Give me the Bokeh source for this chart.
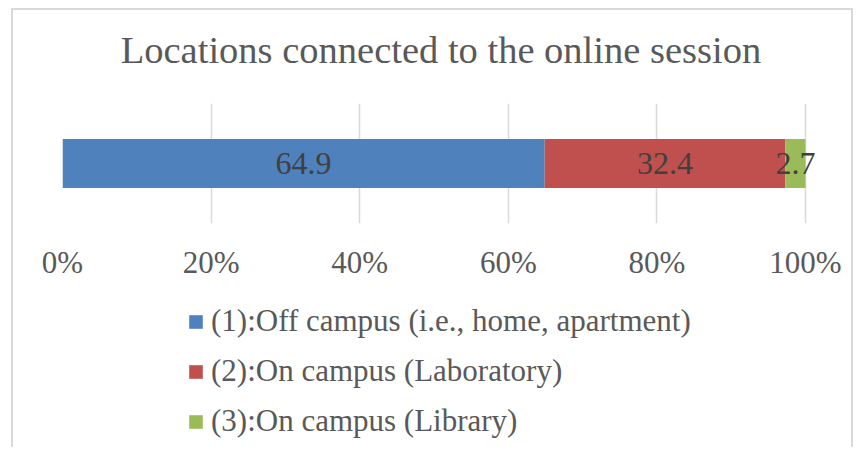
from bokeh.plotting import figure
from bokeh.layouts import column
from bokeh.models import ColumnDataSource, Legend, LegendItem, FixedTicker, Range1d, FactorRange, LabelSet, Div
from bokeh.embed import file_html
from bokeh.resources import INLINE

title_text = "Locations connected to the online session"
categories = ["Locations"]
series_names = ["(1):Off campus (i.e., home, apartment)", "(2):On campus (Laboratory)", "(3):On campus (Library)"]
series_values = [64.9, 32.4, 2.7]
series_labels = ["64.9", "32.4", "2.7"]
colors = ["#4F81BD", "#C0504D", "#9BBB59"]
tick_values = [0, 20, 40, 60, 80, 100]
tick_labels = ["0%", "20%", "40%", "60%", "80%", "100%"]

FONT = "Liberation Serif"
TXT = "#595959"
X_MAX = 100 * 763 / 743  # small room right of 100% so the last data label is not clipped

# ---- title ----
title = Div(text=('<div style="width:838px; box-sizing:border-box; text-align:center; '
                  'font-family:\'Liberation Serif\'; font-size:38.5px; line-height:38px; color:#595959; '
                  'padding-top:21px; padding-left:18px; white-space:nowrap;">'
                  + title_text + '</div>'),
            width=838, height=83, margin=0)

# ---- main chart: bar and axis ----
p = figure(width=838, height=205, output_backend="svg", toolbar_location=None,
           x_range=Range1d(0, X_MAX), y_range=FactorRange(*categories),
           min_border_left=49, min_border_right=26, min_border_top=10, min_border_bottom=75)
p.outline_line_color = None

left = 0.0
sources = []
lx, ly, lt = [], [], []
for v, lab, c in zip(series_values, series_labels, colors):
    src = ColumnDataSource(dict(y=categories, left=[left], right=[left + v]))
    sources.append(src)
    p.hbar(y="y", left="left", right="right", height=0.41, source=src,
           fill_color=c, line_color=None)
    lx.append(left + v / 2)
    ly.append(categories[0])
    lt.append(lab)
    left += v

lsrc = ColumnDataSource(dict(x=lx, y=ly, t=lt))
labels = LabelSet(x="x", y="y", text="t", source=lsrc, text_align="center", text_baseline="middle",
                  text_font=FONT, text_font_size="32px", text_color="#404040")
p.add_layout(labels)

p.yaxis.visible = False
p.ygrid.grid_line_color = None
p.xgrid.grid_line_color = "#d9d9d9"
p.xgrid.grid_line_width = 1.5
p.xaxis.ticker = FixedTicker(ticks=tick_values)
p.xaxis.major_label_overrides = {t: l for t, l in zip(tick_values, tick_labels)}
p.xaxis.axis_line_color = None
p.xaxis.major_tick_line_color = None
p.xaxis.minor_tick_line_color = None
p.xaxis.major_label_text_font = FONT
p.xaxis.major_label_text_font_size = "31px"
p.xaxis.major_label_text_color = TXT
p.xaxis.major_label_standoff = 15

# ---- legend panel ----
q = figure(width=838, height=149, output_backend="svg", toolbar_location=None,
           x_range=Range1d(0, X_MAX), y_range=FactorRange(*categories),
           min_border_left=49, min_border_right=26, min_border_top=0, min_border_bottom=0)
q.outline_line_color = None
q.axis.visible = False
q.grid.grid_line_color = None
items = []
for name, src, c in zip(series_names, sources, colors):
    r = q.hbar(y="y", left="left", right="right", height=0.41, source=src,
               fill_color=c, line_color=None, visible=False)
    items.append(LegendItem(label=name, renderers=[r]))

legend = Legend(items=items, location=(125, 6), orientation="vertical",
                label_text_font=FONT, label_text_font_size="31px", label_text_color=TXT,
                glyph_width=17, glyph_height=17, label_standoff=7, spacing=10,
                label_height=40, border_line_color=None, background_fill_alpha=0,
                inactive_fill_alpha=0, padding=0, margin=0, click_policy="none")
q.add_layout(legend, "center")

layout = column(title, p, q, spacing=0)
layout.styles = {"border-left": "2px solid #d9d9d9", "border-top": "2px solid #d9d9d9",
                 "border-right": "2px solid #d9d9d9", "margin-left": "11px", "margin-top": "8px"}

open("out.html", "w").write(file_html(layout, INLINE))
